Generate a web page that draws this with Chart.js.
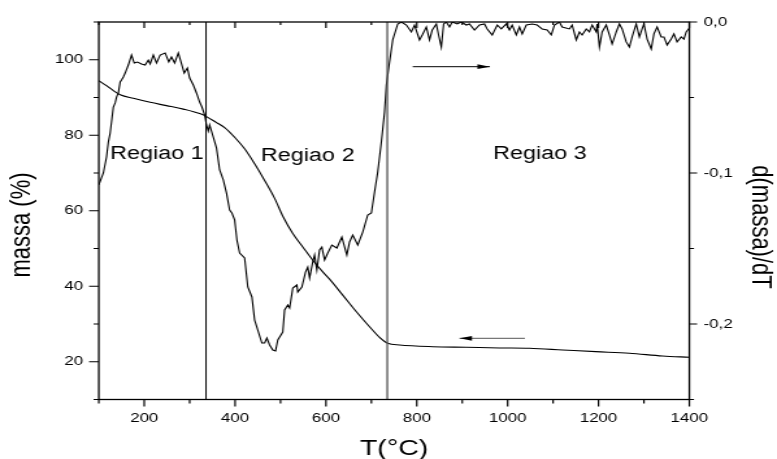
<!DOCTYPE html>
<html>
<head>
<meta charset="utf-8">
<script src="https://cdn.jsdelivr.net/npm/chart.js@4.4.1/dist/chart.umd.min.js"></script>
<style>
  html, body { margin: 0; padding: 0; background: #fff; overflow: hidden; }
  #c { display: block; width: 777px; height: 459px; }
</style>
</head>
<body>
<canvas id="c" width="598" height="459" style="width:777px;height:459px"></canvas>
<script>
// Thermogravimetric curve: temperature (°C) and remaining mass (%)
const massT = [100,117,132,147,176,213,249,286,322,337,
               359,377,399,421,443,465,487,506,527,549,
               571,593,608,637,667,696,718,736,762,835,
               909,982,1048,1121,1194,1268,1341,1400];
const massPct = [94.45,93.13,91.81,90.75,89.78,88.72,87.85,86.92,85.73,84.94,
                 83.36,82.03,79.47,76.41,72.44,68.03,63.28,58.34,53.95,50.41,
                 46.90,43.80,41.88,37.65,33.24,29.27,26.47,24.89,24.44,23.99,
                 23.83,23.65,23.57,23.12,22.67,22.25,21.53,21.19];

// Derivative curve d(massa)/dT
const dtgT = [100,110,117,121,125,128,132,136,139,143,
              147,150,154,158,165,172,178,185,194,202,
              209,213,220,227,235,246,254,260,267,275,
              281,288,295,300,308,315,322,327,333,337,
              341,344,352,359,366,374,381,388,393,399,
              404,410,421,428,437,443,450,459,465,470,
              476,483,489,494,505,509,516,520,527,536,
              538,547,555,560,564,571,575,580,586,591,
              597,604,613,624,635,646,652,659,670,681,
              692,700,707,714,722,729,733,740,747,758,
              766,777,788,795,806,812,821,828,834,843,
              848,854,859,865,872,878,889,898,909,916,
              927,938,949,955,966,977,986,997,1004,1010,
              1019,1026,1032,1041,1054,1065,1070,1076,1087,1096,
              1103,1114,1120,1136,1142,1151,1158,1164,1173,1180,
              1186,1195,1197,1202,1208,1217,1224,1230,1239,1246,
              1252,1261,1268,1274,1283,1290,1296,1300,1307,1316,
              1322,1329,1338,1344,1351,1360,1366,1373,1382,1388,
              1393,1400];
const dtgVal = [-0.1079,-0.1000,-0.0894,-0.0795,-0.0735,-0.0662,-0.0563,-0.0536,-0.0497,-0.0470,
                -0.0397,-0.0384,-0.0364,-0.0338,-0.0285,-0.0219,-0.0272,-0.0265,-0.0278,-0.0285,
                -0.0252,-0.0278,-0.0219,-0.0272,-0.0219,-0.0205,-0.0265,-0.0232,-0.0272,-0.0205,
                -0.0265,-0.0338,-0.0305,-0.0371,-0.0417,-0.0470,-0.0530,-0.0563,-0.0616,-0.0682,
                -0.0722,-0.0682,-0.0762,-0.0834,-0.0980,-0.1046,-0.1132,-0.1245,-0.1265,-0.1311,
                -0.1444,-0.1530,-0.1563,-0.1755,-0.1821,-0.1974,-0.2040,-0.2126,-0.2126,-0.2093,
                -0.2139,-0.2172,-0.2179,-0.2106,-0.2053,-0.1907,-0.1874,-0.1894,-0.1762,-0.1742,
                -0.1788,-0.1755,-0.1656,-0.1623,-0.1695,-0.1589,-0.1543,-0.1642,-0.1510,-0.1490,
                -0.1576,-0.1530,-0.1477,-0.1497,-0.1424,-0.1543,-0.1457,-0.1411,-0.1477,-0.1391,
                -0.1278,-0.1265,-0.1126,-0.0993,-0.0795,-0.0596,-0.0417,-0.0265,-0.0119,-0.0013,
                0,-0.0020,-0.0066,-0.0020,-0.0119,-0.0086,-0.0033,-0.0119,-0.0053,-0.0013,
                -0.0086,-0.0166,-0.0013,0,-0.0033,0,-0.0013,0,-0.0020,-0.0013,
                -0.0053,-0.0020,-0.0013,-0.0046,-0.0086,-0.0020,-0.0046,-0.0013,-0.0053,-0.0020,
                -0.0086,-0.0033,-0.0079,-0.0020,-0.0013,-0.0020,-0.0033,-0.0046,-0.0053,-0.0086,
                -0.0020,0,-0.0033,-0.0046,-0.0020,-0.0119,-0.0066,-0.0086,-0.0046,-0.0066,
                -0.0020,-0.0066,-0.0013,-0.0166,-0.0066,-0.0020,-0.0086,-0.0146,-0.0066,-0.0013,
                -0.0046,-0.0132,-0.0166,-0.0099,-0.0013,-0.0099,-0.0046,-0.0013,-0.0113,-0.0179,
                -0.0079,-0.0033,-0.0099,-0.0099,-0.0152,-0.0113,-0.0079,-0.0132,-0.0099,-0.0113,
                -0.0066,-0.0040];

// Region boundaries (°C)
const boundaryT = [336, 735];

// Direction arrows: [start, tip] temperatures and the level they sit at
const arrowDtgT = [791, 961];
const arrowDtgLevel = -0.0296;
const arrowMassT = [1038, 894];
const arrowMassLevel = 26.2;

// Region names with their temperature centre and mass level
const regionNames = ['Regiao 1', 'Regiao 2', 'Regiao 3'];
const regionT = [228, 560, 1071];
const regionLevel = [73.8, 73.2, 73.6];

// Axis ranges and ticks
const xRange = [100, 1400];
const xMajor = [200, 400, 600, 800, 1000, 1200, 1400];
const xMinor = [100, 300, 500, 700, 900, 1100, 1300];
const massRange = [10, 110];
const massMajor = [20, 40, 60, 80, 100];
const massMinor = [10, 30, 50, 70, 90, 110];
const dtgRange = [-0.25, 0];
const dtgMajor = [-0.2, -0.1, 0];
const dtgMinor = [-0.25, -0.15, -0.05];

const FONT = "'Liberation Sans', Arial, Helvetica, sans-serif";
Chart.defaults.font.family = FONT;
Chart.defaults.color = '#000';

const pts = (xs, ys) => xs.map((x, i) => ({ x, y: ys[i] }));
const flat = (xs, level) => xs.map(x => ({ x, y: level }));
const vertical = (t, range) => range.map(v => ({ x: t, y: v }));

// Frame, inner/outer tick marks and arrowheads
const frameTicks = {
  id: 'frameTicks',
  afterDatasetsDraw(chart) {
    const { ctx, chartArea: a, scales } = chart;
    const xs = scales.x, yl = scales.y, yr = scales.y2;
    ctx.save();

    // arrowheads at the tip of each arrow dataset
    chart.data.datasets.forEach((ds, i) => {
      if (!ds.arrowHead) return;
      const el = chart.getDatasetMeta(i).data;
      const tip = el[el.length - 1], prev = el[el.length - 2];
      const dir = tip.x >= prev.x ? 1 : -1;
      ctx.fillStyle = '#000';
      ctx.beginPath();
      ctx.moveTo(tip.x, tip.y);
      ctx.lineTo(tip.x - dir * 9.6, tip.y - 2.4);
      ctx.lineTo(tip.x - dir * 9.6, tip.y + 2.4);
      ctx.closePath();
      ctx.fill();
    });

    ctx.strokeStyle = '#000';
    ctx.lineWidth = 1.3;
    ctx.strokeRect(a.left, a.top, a.right - a.left, a.bottom - a.top);

    ctx.lineWidth = 1.2;
    ctx.beginPath();
    const hx = (list, outB, inT) => list.forEach(v => {
      const p = xs.getPixelForValue(v);
      ctx.moveTo(p, a.bottom); ctx.lineTo(p, a.bottom + outB);
      ctx.moveTo(p, a.top); ctx.lineTo(p, a.top + inT);
    });
    hx(xMajor, 7, 6);
    hx(xMinor, 4, 3);
    const vl = (list, len) => list.forEach(v => {
      const p = yl.getPixelForValue(v);
      ctx.moveTo(a.left, p); ctx.lineTo(a.left - len, p);
    });
    vl(massMajor, 7.5);
    vl(massMinor, 4);
    const vr = (list, len) => list.forEach(v => {
      const p = yr.getPixelForValue(v);
      ctx.moveTo(a.right, p); ctx.lineTo(a.right + len, p);
    });
    vr(dtgMajor, 6);
    vr(dtgMinor, 3.6);
    ctx.stroke();
    ctx.restore();
  },
  afterDraw(chart) {
    const { ctx, chartArea: a, scales } = chart;
    ctx.save();
    ctx.fillStyle = '#000';

    // region names
    ctx.font = '18px ' + FONT;
    ctx.textAlign = 'center';
    ctx.textBaseline = 'alphabetic';
    regionNames.forEach((t, i) => {
      ctx.fillText(t, scales.x.getPixelForValue(regionT[i]), scales.y.getPixelForValue(regionLevel[i]));
    });

    // axis titles
    ctx.font = '22px ' + FONT;
    ctx.fillText('T(°C)', (a.left + a.right) / 2, 455);

    ctx.textBaseline = 'middle';
    ctx.save();
    ctx.translate(17, 225);
    ctx.rotate(-Math.PI / 2);
    ctx.fillText('massa (%)', 0, 0);
    ctx.restore();

    ctx.save();
    ctx.translate(585, 227);
    ctx.rotate(Math.PI / 2);
    ctx.fillText('d(massa)/dT', 0, 0);
    ctx.restore();

    ctx.restore();
  }
};

const setTicks = list => scale => { scale.ticks = list.map(v => ({ value: v })); };
const noGrid = { display: false, drawTicks: false };

new Chart(document.getElementById('c'), {
  type: 'line',
  data: {
    datasets: [
      { data: vertical(boundaryT[0], massRange), yAxisID: 'y',
        borderColor: '#000', borderWidth: 1, pointRadius: 0 },
      { data: vertical(boundaryT[1], massRange), yAxisID: 'y',
        borderColor: '#555', borderWidth: 1.3, pointRadius: 0 },
      { data: pts(massT, massPct), yAxisID: 'y', borderColor: '#000', borderWidth: 1.1,
        pointRadius: 0, cubicInterpolationMode: 'monotone' },
      { data: pts(dtgT, dtgVal), yAxisID: 'y2', borderColor: '#000', borderWidth: 1.1,
        pointRadius: 0, tension: 0 },
      { data: flat(arrowDtgT, arrowDtgLevel), yAxisID: 'y2', borderColor: '#000', borderWidth: 1,
        pointRadius: 0, arrowHead: true },
      { data: flat(arrowMassT, arrowMassLevel), yAxisID: 'y', borderColor: '#777', borderWidth: 1.2,
        pointRadius: 0, arrowHead: true }
    ]
  },
  options: {
    responsive: false,
    animation: false,
    events: [],
    layout: { padding: { top: 22, left: 0, right: 0, bottom: 0 } },
    plugins: { legend: { display: false }, tooltip: { enabled: false } },
    scales: {
      x: {
        type: 'linear', position: 'bottom', min: xRange[0], max: xRange[1],
        grid: noGrid, border: { display: false },
        afterBuildTicks: setTicks(xMajor),
        afterFit: s => { s.height = 59.5; },
        ticks: { font: { size: 13 }, color: '#000', padding: 11, maxRotation: 0, autoSkip: false,
                 callback: v => String(v) }
      },
      y: {
        type: 'linear', position: 'left', min: massRange[0], max: massRange[1],
        grid: noGrid, border: { display: false },
        afterBuildTicks: setTicks(massMajor),
        afterFit: s => { s.width = 76.04; },
        ticks: { font: { size: 13 }, color: '#000', padding: 12, callback: v => String(v) }
      },
      y2: {
        type: 'linear', position: 'right', min: dtgRange[0], max: dtgRange[1],
        grid: noGrid, border: { display: false },
        afterBuildTicks: setTicks(dtgMajor),
        afterFit: s => { s.width = 67.46; },
        ticks: { font: { size: 13 }, color: '#000', padding: 11,
                 callback: v => v.toFixed(1).replace('.', ',') }
      }
    }
  },
  plugins: [frameTicks]
});
</script>
</body>
</html>
